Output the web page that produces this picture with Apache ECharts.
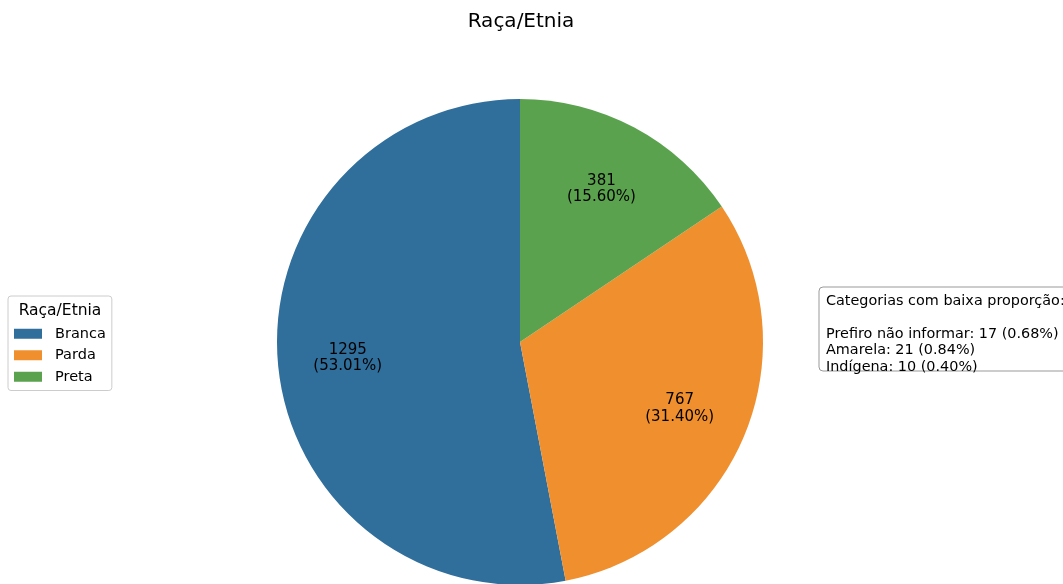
<!DOCTYPE html>
<html><head><meta charset="utf-8">
<script src="https://cdn.jsdelivr.net/npm/echarts@6/dist/echarts.min.js"></script>
<style>html,body{margin:0;padding:0;background:#fff}#c{width:1063px;height:584px}</style>
</head><body><div id="c"></div>
<script>
const categories = ['Branca', 'Parda', 'Preta'];
const values = [1295, 767, 381];
const colors = ['#306e9b', '#f08f2e', '#5ba24f'];
const lowCategories = ['Prefiro não informar', 'Amarela', 'Indígena'];
const lowValues = [17, 21, 10];

const mainTotal = values.reduce((a, b) => a + b, 0);
const grandTotal = mainTotal + lowValues.reduce((a, b) => a + b, 0);
const data = categories.map((c, i) => ({ name: c, value: values[i], itemStyle: { color: colors[i] } }));
const lowText = 'Categorias com baixa proporção:\n\n' +
  lowCategories.map((c, i) => c + ': ' + lowValues[i] + ' (' + (lowValues[i] / grandTotal * 100).toFixed(2) + '%)').join('\n');

const FONT = 'DejaVu Sans';
const chart = echarts.init(document.getElementById('c'), null, { renderer: 'canvas' });
chart.setOption({
  animation: false,
  graphic: [
    { type: 'text', x: 521, y: 22, style: { text: 'Raça/Etnia', fontFamily: FONT, fontSize: 20, fill: '#000', align: 'center', verticalAlign: 'middle' } },
    { type: 'text', x: 60, y: 311, style: { text: 'Raça/Etnia', fontFamily: FONT, fontSize: 15.5, fill: '#000', align: 'center', verticalAlign: 'middle' } },
    { type: 'rect', shape: { x: 819, y: 287, width: 270, height: 84, r: 4 }, style: { fill: '#fff', stroke: '#999', lineWidth: 1 } },
    { type: 'text', x: 826, y: 293, style: { text: lowText, fontFamily: FONT, fontSize: 14.4, lineHeight: 16.5, fill: '#000' } }
  ],
  legend: {
    data: categories, orient: 'vertical', left: 8, top: 296,
    padding: [30, 6, 6, 6], itemWidth: 28, itemHeight: 10, itemGap: 6,
    icon: 'rect', borderColor: '#cccccc', borderWidth: 1, borderRadius: 3,
    textStyle: { fontFamily: FONT, fontSize: 14.5, color: '#000', lineHeight: 15.5, padding: [0, 0, 0, 8] }
  },
  series: [
    {
      type: 'pie', center: [520, 342], radius: [0, 243], startAngle: 90, clockwise: false,
      data: data, label: { show: false }, labelLine: { show: false }, silent: true,
      itemStyle: { borderWidth: 0 }
    },
    {
      type: 'pie', center: [520, 342], radius: [97, 243], startAngle: 90, clockwise: false,
      data: categories.map((c, i) => ({ name: c, value: values[i] })), silent: true,
      legendHoverLink: false,
      itemStyle: { color: 'rgba(0,0,0,0)', borderWidth: 0 },
      label: {
        show: true, position: 'inside', fontFamily: FONT, fontSize: 15, color: '#000', lineHeight: 16.5,
        formatter: p => p.value + '\n(' + (p.value / mainTotal * 100).toFixed(2) + '%)'
      },
      labelLine: { show: false }
    }
  ]
});
</script></body></html>
